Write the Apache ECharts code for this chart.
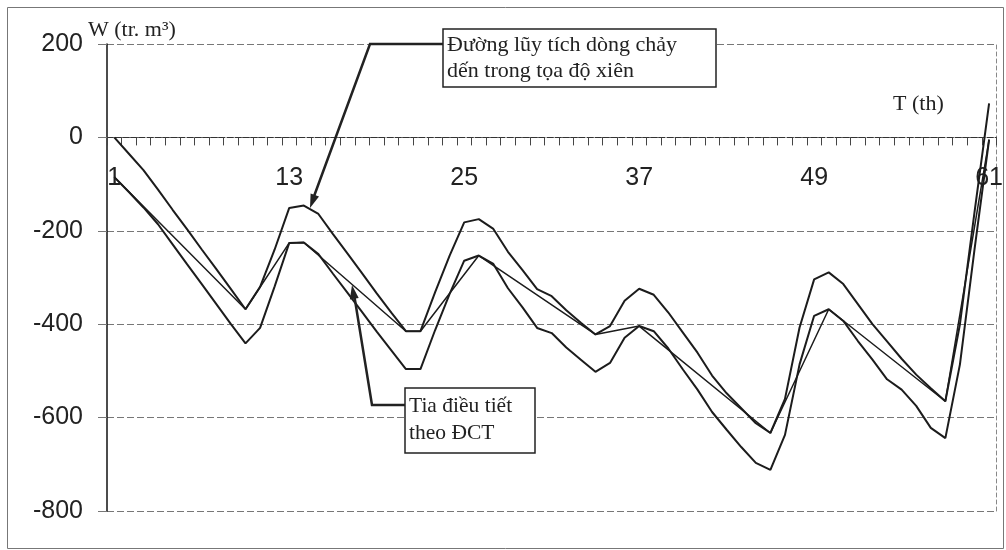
<!DOCTYPE html>
<html>
<head>
<meta charset="utf-8">
<script src="https://cdn.jsdelivr.net/npm/echarts@6/dist/echarts.min.js"></script>
<style>
html,body{margin:0;padding:0;background:#fff;}
#chart{width:1006px;height:550px;}
</style>
</head>
<body>
<div id="chart"></div>
<script>
// Months (T, th)
const months = ['1','2','3','4','5','6','7','8','9','10','11','12','13','14','15','16','17','18','19','20',
  '21','22','23','24','25','26','27','28','29','30','31','32','33','34','35','36','37','38','39','40',
  '41','42','43','44','45','46','47','48','49','50','51','52','53','54','55','56','57','58','59','60','61'];

// Upper cumulative inflow curve in oblique coordinates (W, tr. m3)
const upperCurve = [0,-35,-70,-112,-155,-197,-240,-282,-325,-368,
  -320,-240,-151,-146,-164,-207,-249,-291,-334,-375,
  -415,-415,-332,-253,-182,-175,-196,-245,-284,-325,
  -340,-370,-397,-422,-404,-350,-324,-337,-375,-418,
  -461,-510,-548,-580,-612,-633,-560,-407,-304,-289,
  -314,-357,-400,-437,-474,-508,-537,-565,-400,-160,
  73];

// Lower (shifted) curve
const lowerCurve = [-85,-117,-150,-186,-229,-272,-314,-357,-400,-441,
  -408,-319,-226,-225,-250,-292,-333,-374,-416,-456,
  -496,-496,-413,-335,-264,-253,-271,-323,-364,-408,
  -419,-450,-476,-502,-483,-429,-404,-415,-452,-497,
  -540,-588,-626,-663,-697,-712,-637,-486,-382,-368,
  -393,-436,-476,-518,-540,-575,-622,-644,-486,-240,
  -5];

// Regulation rays (vertices)
const rayMonths = ['1','10','13','14','21','22','26','34','37','46','50','58','61'];
const rayValues = [-85,-368,-226,-225,-415,-415,-253,-422,-404,-633,-368,-565,-5];

const yTicks = {min: -800, max: 200, interval: 200};

const chart = echarts.init(document.getElementById('chart'));
const lineColor = '#1c1c1c';
const serif = '"Liberation Serif", "DejaVu Serif", serif';
const gridTop = 44, gridBottom = 39, chartH = 550;
const plotH = chartH - gridTop - gridBottom;
// distance of the zero line from the bottom of the plot
const zeroOffset = plotH * (0 - yTicks.min) / (yTicks.max - yTicks.min);

const option = {
  animation: false,
  backgroundColor: '#ffffff',
  grid: {left: 107, right: 9, top: gridTop, bottom: gridBottom},
  xAxis: {
    type: 'category',
    data: months,
    boundaryGap: true,
    position: 'bottom',
    offset: -zeroOffset,
    axisLine: {show: true, onZero: false, lineStyle: {color: '#333', width: 1, type: [6, 2]}},
    axisTick: {show: true, interval: 0, length: 8, lineStyle: {color: '#444', width: 1}},
    axisLabel: {interval: 11, margin: 28, fontSize: 25, color: '#222', fontFamily: '"Liberation Sans", Arial, sans-serif'},
    splitLine: {show: false}
  },
  yAxis: [{
    type: 'value',
    min: yTicks.min, max: yTicks.max, interval: yTicks.interval,
    axisLine: {show: true, onZero: false, lineStyle: {color: '#111', width: 1.5}},
    axisTick: {show: true, length: 9, lineStyle: {color: '#777', width: 1}},
    axisLabel: {margin: 24, fontSize: 25, color: '#222', fontFamily: '"Liberation Sans", Arial, sans-serif'},
    splitLine: {show: true, lineStyle: {color: '#777', width: 1, type: [7, 3]}}
  }, {
    type: 'value',
    position: 'right',
    min: yTicks.min, max: yTicks.max, interval: yTicks.interval,
    axisLine: {show: true, onZero: false, lineStyle: {color: '#888', width: 1, type: [4, 3]}},
    axisTick: {show: false},
    axisLabel: {show: false},
    splitLine: {show: false}
  }],
  series: [{
    name: 'Đường lũy tích dòng chảy dến trong tọa độ xiên',
    type: 'line',
    data: upperCurve,
    symbol: 'none',
    lineStyle: {color: lineColor, width: 2},
    z: 3
  }, {
    name: 'Đường dưới',
    type: 'line',
    data: lowerCurve,
    symbol: 'none',
    lineStyle: {color: lineColor, width: 2},
    z: 3
  }, {
    name: 'Tia điều tiết theo ĐCT',
    type: 'line',
    data: rayMonths.map((m, i) => [m, rayValues[i]]),
    symbol: 'none',
    lineStyle: {color: lineColor, width: 1.5},
    z: 3
  }],
  graphic: [
    // outer frame
    {type: 'rect', shape: {x: 7.5, y: 7.5, width: 996, height: 541}, style: {fill: 'none', stroke: '#777', lineWidth: 1}, z: 1},
    // y axis title
    {type: 'text', x: 88, y: 19, style: {text: 'W (tr. m³)', font: '22px ' + serif, fill: '#222'}, z: 10},
    // x axis title
    {type: 'text', x: 893, y: 93, style: {text: 'T (th)', font: '22px ' + serif, fill: '#222'}, z: 10},
    // annotation 1 box
    {type: 'rect', shape: {x: 443, y: 29, width: 273, height: 58}, style: {fill: '#fff', stroke: '#222', lineWidth: 1.5}, z: 10},
    {type: 'text', x: 447, y: 32, style: {text: 'Đường lũy tích dòng chảy\ndến trong tọa độ xiên', font: '22px ' + serif, lineHeight: 26, fill: '#222'}, z: 11},
    {type: 'polyline', shape: {points: [[443, 44], [370, 44], [313, 199]]}, style: {stroke: '#222', lineWidth: 2.5, fill: 'none'}, z: 10},
    {type: 'polygon', shape: {points: [[310, 208], [319, 196.4], [310.6, 193.4]]}, style: {fill: '#222'}, z: 10},
    // annotation 2 box
    {type: 'rect', shape: {x: 405, y: 388, width: 130, height: 65}, style: {fill: '#fff', stroke: '#222', lineWidth: 1.5}, z: 10},
    {type: 'text', x: 409, y: 393, style: {text: 'Tia điều tiết\ntheo ĐCT', font: '21.5px ' + serif, lineHeight: 27, fill: '#222'}, z: 11},
    {type: 'polyline', shape: {points: [[405, 405], [372, 405], [354, 294]]}, style: {stroke: '#222', lineWidth: 2.5, fill: 'none'}, z: 10},
    {type: 'polygon', shape: {points: [[352, 285], [358.7, 298.1], [349.9, 299.5]]}, style: {fill: '#222'}, z: 10}
  ]
};
chart.setOption(option);
</script>
</body>
</html>
